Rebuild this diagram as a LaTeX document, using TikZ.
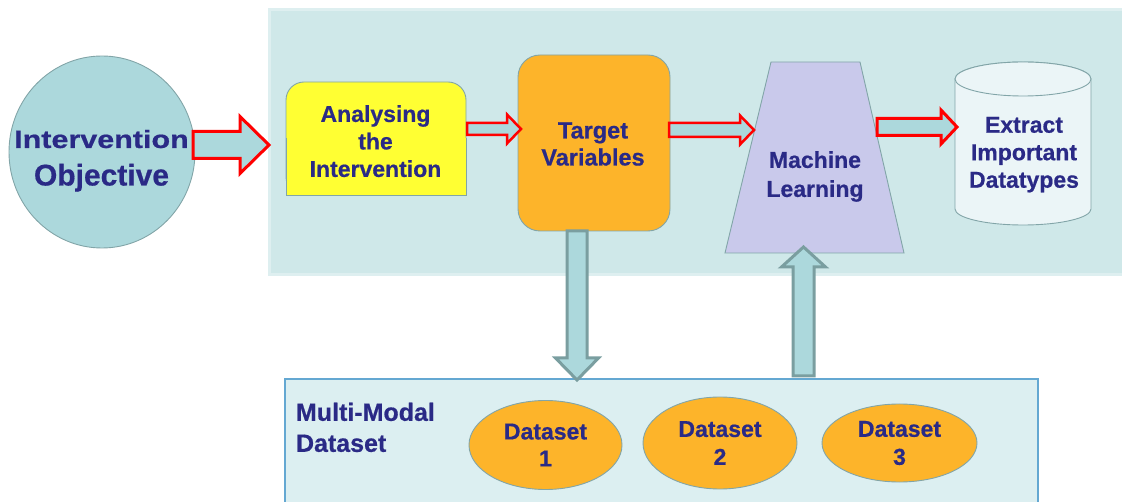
\documentclass[tikz,border=0pt]{standalone}
\usepackage{fontspec}
\setmainfont[BoldFeatures={FakeBold=0.6}]{Liberation Sans}
\newfontfamily\widefont[FakeStretch=1.22,BoldFeatures={FakeBold=0.6}]{Liberation Sans}
\usetikzlibrary{calc,shapes.geometric}
\definecolor{navy}{RGB}{42,42,134}
\definecolor{panelfill}{RGB}{207,232,233}
\definecolor{panelrim}{RGB}{222,239,240}
\definecolor{tealfill}{RGB}{172,216,220}
\definecolor{tealline}{RGB}{122,158,160}
\definecolor{shapeline}{RGB}{130,165,168}
\definecolor{yel}{RGB}{255,255,51}
\definecolor{org}{RGB}{253,180,42}
\definecolor{lav}{RGB}{201,201,235}
\definecolor{cyl}{RGB}{235,245,247}
\definecolor{lowfill}{RGB}{220,239,241}
\definecolor{lowline}{RGB}{100,168,210}
\definecolor{redline}{RGB}{255,0,0}
\newcommand\hblock[6]{\draw[#1] let \p1=(#2), \p2=(#3) in (\x1,\y2+#4pt) -- (\x2-#6pt,\y2+#4pt) -- (\x2-#6pt,\y2+#5pt) -- (\x2,\y2) -- (\x2-#6pt,\y2-#5pt) -- (\x2-#6pt,\y2-#4pt) -- (\x1,\y2-#4pt) -- cycle;}
\newcommand\vdown[6]{\draw[#1] let \p1=(#2), \p2=(#3) in (\x2-#4pt,\y1) -- (\x2-#4pt,\y2+#6pt) -- (\x2-#5pt,\y2+#6pt) -- (\x2,\y2) -- (\x2+#5pt,\y2+#6pt) -- (\x2+#4pt,\y2+#6pt) -- (\x2+#4pt,\y1) -- cycle;}
\newcommand\vup[6]{\draw[#1] let \p1=(#2), \p2=(#3) in (\x2-#4pt,\y1) -- (\x2-#4pt,\y2-#6pt) -- (\x2-#5pt,\y2-#6pt) -- (\x2,\y2) -- (\x2+#5pt,\y2-#6pt) -- (\x2+#4pt,\y2-#6pt) -- (\x2+#4pt,\y1) -- cycle;}
\begin{document}
\begin{tikzpicture}[x=1pt,y=-1pt,
  every node/.style={inner sep=0pt, outer sep=0pt},
  lbl/.style={text=navy, align=center, font=\bfseries\fontsize{23}{27.5}\selectfont},
  shapeborder/.style={draw=shapeline, line width=0.9pt},
  redarrow/.style={draw=redline, fill=tealfill, line join=miter},
  vblock/.style={draw=tealline, fill=tealfill, line width=3pt, line join=miter}]
\useasboundingbox (0,0) rectangle (1122,502);
% panels
\node[rectangle, draw=panelrim, line width=3pt, fill=panelfill, anchor=north west,
      minimum width=860pt, minimum height=265pt] (toppanel) at (269.5,9.5) {};
\node[rectangle, draw=lowline, line width=1.5pt, fill=lowfill, anchor=north west,
      minimum width=753pt, minimum height=140pt] (lowpanel) at (285,379) {};
% objective circle
\node[ellipse, shapeborder, fill=tealfill, minimum width=186pt, minimum height=192pt] (obj) at (102,152) {};
\node[text=navy, align=center, font=\bfseries\fontsize{25}{37.5}\selectfont] (objt) at (101.5,160.8)
  {{\widefont\bfseries Intervention}\\{\fontsize{30}{37.5}\selectfont Objective}};
% analysing
\node[rectangle, rounded corners=18pt, shapeborder, fill=yel, minimum width=180pt, minimum height=113pt] (ana) at (376,138.5) {};
\path[fill=yel, shapeborder] (ana.west) -- (ana.south west) -- (ana.south east) -- (ana.east);
\node[lbl] (anat) at (375.5,141.2) {Analysing\\the\\Intervention};
% target
\node[rectangle, rounded corners=22pt, shapeborder, fill=org, minimum width=152pt, minimum height=176pt] (tgt) at (594,143) {};
\node[lbl, font=\bfseries\fontsize{23.5}{27}\selectfont] (tgtt) at (593,144) {Target\\Variables};
% machine learning
\path[fill=lav, shapeborder] (725,253) -- (771,62) -- (860,62) -- (904,253) -- cycle;
\node[lbl, font=\bfseries\fontsize{23}{29}\selectfont] (mlt) at (815,176.5) {Machine\\Learning};
% cylinder
\path[fill=cyl, shapeborder] (955,79) -- (955,209) arc[start angle=180, end angle=0, x radius=68, y radius=16] -- (1091,79) arc[start angle=0, end angle=-180, x radius=68, y radius=17] -- cycle;
\path[fill=cyl, shapeborder] (1023,79) ellipse[x radius=68, y radius=17];
\node[lbl] (cylt) at (1024,154.7) {Extract\\Important\\Datatypes};
% bottom
\node[text=navy, align=left, anchor=west, font=\bfseries\fontsize{25}{31}\selectfont] (mmt) at (296,427.4) {Multi-Modal\\Dataset};
\node[ellipse, shapeborder, fill=org, minimum width=153pt, minimum height=89pt, lbl, font=\bfseries\fontsize{23}{27}\selectfont] (d1) at (545.5,445) {Dataset\\1};
\node[ellipse, shapeborder, fill=org, minimum width=154pt, minimum height=92pt, lbl, font=\bfseries\fontsize{23}{28}\selectfont] (d2) at (720,443) {Dataset\\2};
\node[ellipse, shapeborder, fill=org, minimum width=155pt, minimum height=78pt, lbl, font=\bfseries\fontsize{23}{28}\selectfont] (d3) at (899.5,443) {Dataset\\3};
% arrows
\coordinate (c1s) at (193,145); \coordinate (c1e) at (269,145);
\hblock{redarrow, line width=3pt}{c1s}{c1e}{13.5}{28.5}{29}
\coordinate (c2s) at (467,129); \coordinate (c2e) at (521,129);
\hblock{redarrow, line width=2.5pt}{c2s}{c2e}{6}{14.5}{14}
\coordinate (c3s) at (669,130); \coordinate (c3e) at (754,130);
\hblock{redarrow, line width=2.5pt}{c3s}{c3e}{7}{14.5}{14}
\coordinate (c4s) at (877,127); \coordinate (c4e) at (957,127);
\hblock{redarrow, line width=3pt}{c4s}{c4e}{8.5}{17}{16}
\coordinate (vds) at (577,231); \coordinate (vde) at (577,380);
\vdown{vblock}{vds}{vde}{10}{21.5}{22}
\coordinate (vus) at (803.5,376); \coordinate (vue) at (803.5,247);
\vup{vblock}{vus}{vue}{10.5}{22}{20}
\end{tikzpicture}
\end{document}
